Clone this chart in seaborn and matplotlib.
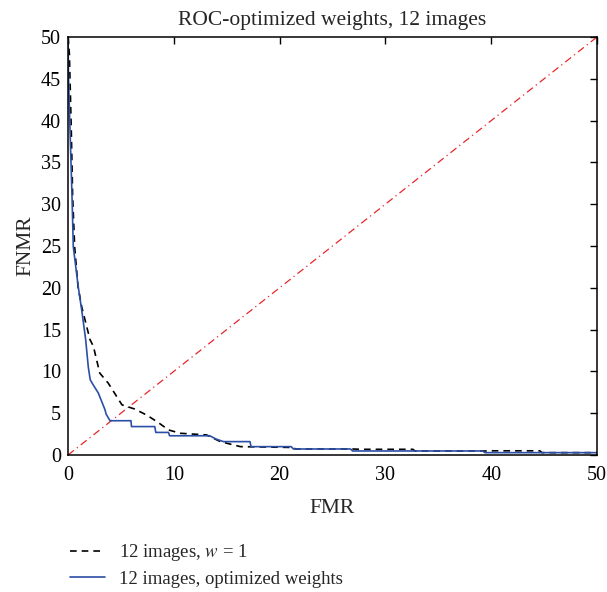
import numpy as np
import pandas as pd
import seaborn as sns
import matplotlib
matplotlib.use("Agg")
import matplotlib.pyplot as plt

# Data
fmr_w1 = [0.0, 0.13, 0.31, 0.44, 0.63, 0.95, 1.3, 2.08, 2.4, 3.0, 3.8, 4.6, 5.1, 6.3, 7.4, 8.4,
          9.5, 10.6, 13.1, 14.4, 16.3, 21.3, 21.5, 26.9, 27.6, 32.6, 32.8, 39.9, 40.0, 44.6, 44.8, 50.0]
fnmr_w1 = [50.0, 48.0, 38.9, 30.9, 24.9, 20.1, 17.7, 13.8, 13.0, 9.8, 8.6, 7.0, 6.0, 5.5, 4.8, 4.0,
           3.0, 2.6, 2.4, 1.6, 1.0, 0.9, 0.72, 0.72, 0.68, 0.68, 0.48, 0.48, 0.5, 0.5, 0.28, 0.28]

fmr_opt = [0.0, 0.05, 0.19, 0.38, 0.5, 0.97, 1.3, 1.67, 1.92, 2.1, 2.33, 2.87, 3.5, 3.6, 3.97, 5.95,
           6.0, 8.2, 8.3, 9.5, 9.6, 13.4, 14.0, 14.7, 17.2, 17.3, 21.1, 21.3, 26.7, 26.9, 39.2, 39.4, 50.0]
fnmr_opt = [50.0, 45.0, 38.9, 30.9, 24.9, 20.1, 17.3, 13.8, 10.5, 9.0, 8.5, 7.4, 5.4, 4.9, 4.1, 4.1,
            3.4, 3.4, 2.7, 2.7, 2.3, 2.3, 1.9, 1.6, 1.6, 1.0, 1.0, 0.72, 0.72, 0.48, 0.48, 0.28, 0.28]

eer_line = [0, 50]

title = "ROC-optimized weights, 12 images"
label_w1 = "12 images, $w$ = 1"
label_opt = "12 images, optimized weights"
xticks = [0, 10, 20, 30, 40, 50]
yticks = [0, 5, 10, 15, 20, 25, 30, 35, 40, 45, 50]

sns.set_theme(style="white")
plt.rcParams["font.family"] = ["Liberation Serif", "DejaVu Serif"]
plt.rcParams["mathtext.fontset"] = "stix"

fig = plt.figure(figsize=(6.07, 5.92), dpi=100)
ax = fig.add_axes([68/607, 1-455/592, (597-68)/607, (455-37)/592])

df_eer = pd.DataFrame({"x": eer_line, "y": eer_line})
sns.lineplot(data=df_eer, x="x", y="y", ax=ax, color="#e8262a", lw=0.9,
             linestyle=(0, (6, 3, 1, 3)), sort=False, legend=False)

df_w1 = pd.DataFrame({"x": fmr_w1, "y": fnmr_w1})
sns.lineplot(data=df_w1, x="x", y="y", ax=ax, color="black", lw=1.2,
             linestyle=(0, (4, 3)), sort=False, label=label_w1)
df_opt = pd.DataFrame({"x": fmr_opt, "y": fnmr_opt})
sns.lineplot(data=df_opt, x="x", y="y", ax=ax, color="#2b4ea6", lw=1.2,
             sort=False, label=label_opt)

ax.set_xlim(0, 50)
ax.set_ylim(0, 50)
ax.set_xticks(xticks)
ax.set_yticks(yticks)
ax.tick_params(direction="in", length=5, width=1, top=True, right=True,
               labelsize=14.5, colors="black", pad=5)
ax.tick_params(axis="x", pad=8)
for s in ax.spines.values():
    s.set_color("black")
    s.set_linewidth(1.1)
ax.set_title(title, fontsize=15.5, pad=9)
ax.set_xlabel("FMR", fontsize=15.5, labelpad=10)
ax.set_ylabel("FNMR", fontsize=15.5, labelpad=4)

ax.legend(loc="center left", bbox_to_anchor=(62/607, 1-565/592), bbox_transform=fig.transFigure,
          frameon=False, fontsize=13.5, handlelength=1.9, handletextpad=0.75, labelspacing=0.4,
          borderaxespad=0)

fig.savefig("out.png", dpi=100)
